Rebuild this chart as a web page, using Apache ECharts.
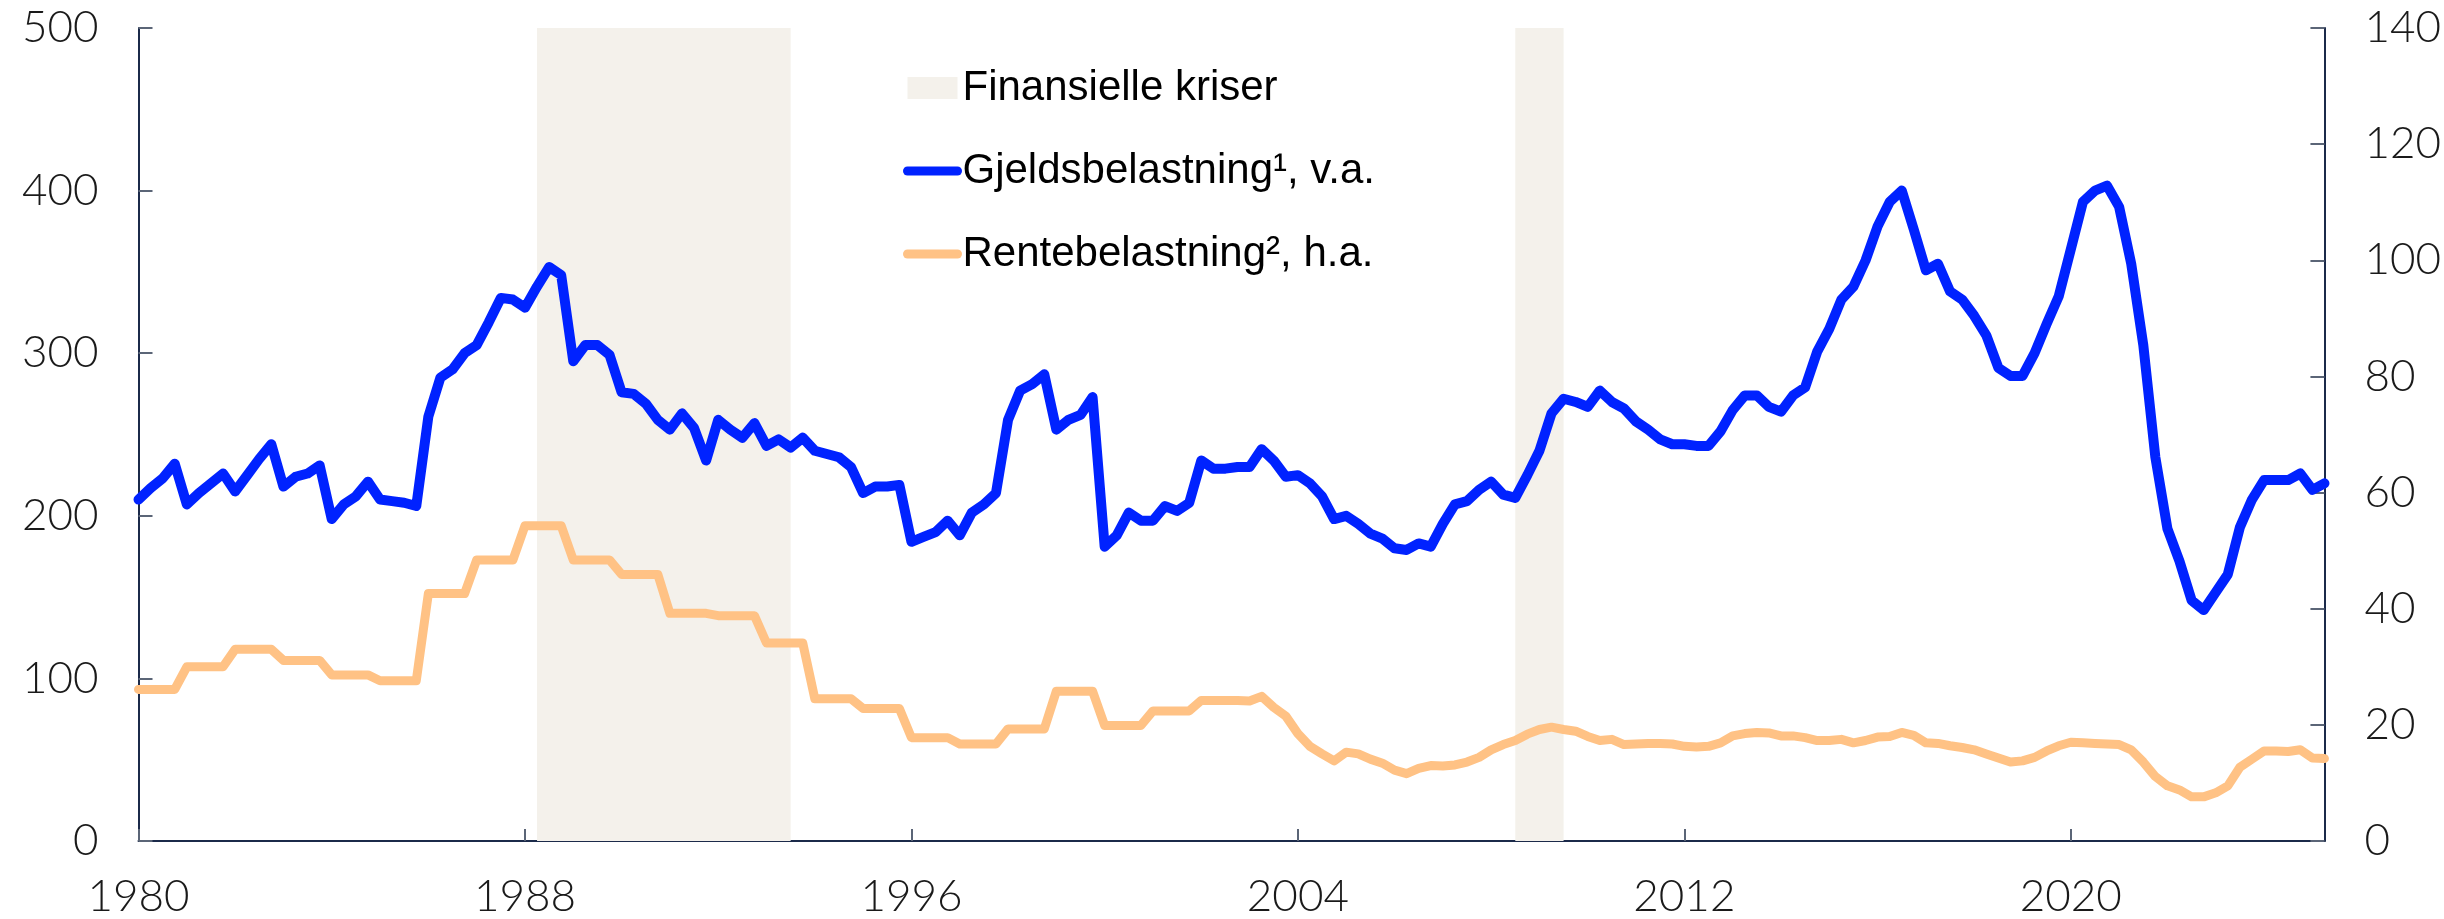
<!DOCTYPE html>
<html lang="no">

<head>
  <meta charset="UTF-8">
  <title>Gjeldsbelastning og rentebelastning</title>
  <script src="https://cdn.jsdelivr.net/npm/echarts@6/dist/echarts.min.js"></script>
  <style>
    html, body { margin: 0; padding: 0; background: #fff; }
    #chart { width: 2444px; height: 919px; }
  </style>
</head>

<body>
  <div id="chart"></div>

  <script>
    // kvartalsdata fra 1980K1 til 2025K2
    const startYear = 1980
    const quarters = []
    for (let i = 0; i < 182; i++) {
      quarters.push((startYear + Math.floor(i / 4)) + 'K' + (i % 4 + 1))
    }

    // Gjeldsbelastning, venstre akse
    const gjeld = [
      210, 217, 223, 232, 207, 214, 220, 226, 215, 225, 235, 244, 218, 224, 226, 231,
      198, 207, 212, 221, 210, 209, 208, 206, 261, 285, 290, 300, 305, 319, 334, 333,
      328, 341, 353, 348, 295, 305, 305, 299, 276, 275, 269, 259, 253, 263, 254, 234,
      259, 253, 248, 257, 243, 247, 242, 248, 240, 238, 236, 230, 214, 218, 218, 219,
      184, 187, 190, 197, 188, 202, 207, 214, 259, 277, 281, 287, 253, 259, 262, 273,
      181, 188, 202, 197, 197, 206, 203, 208, 234, 229, 229, 230, 230, 241, 234, 224,
      225, 220, 212, 198, 200, 195, 189, 186, 180, 179, 183, 181, 195, 207, 209, 216,
      221, 213, 211, 225, 240, 263, 272, 270, 267, 277, 270, 266, 258, 253, 247, 244,
      244, 243, 243, 252, 265, 274, 274, 267, 264, 274, 279, 301, 315, 333, 341, 357,
      378, 393, 400, 376, 351, 355, 338, 333, 323, 311, 291, 286, 286, 300, 318, 335,
      364, 393, 400, 403, 390, 355, 305, 236, 192, 172, 148, 142, 153, 164, 193, 210,
      222, 222, 222, 226, 216, 220
    ]

    // Rentebelastning, høyre akse
    const rente = [
      26.1, 26.1, 26.1, 26.1, 30.0, 30.0, 30.0, 30.0, 33.0, 33.0, 33.0, 33.0, 31.1, 31.1, 31.1, 31.1,
      28.6, 28.6, 28.6, 28.6, 27.6, 27.6, 27.6, 27.6, 42.6, 42.6, 42.6, 42.6, 48.4, 48.4, 48.4, 48.4,
      54.3, 54.3, 54.3, 54.3, 48.4, 48.4, 48.4, 48.4, 45.9, 45.9, 45.9, 45.9, 39.2, 39.2, 39.2, 39.2,
      38.8, 38.8, 38.8, 38.8, 34.1, 34.1, 34.1, 34.1, 24.5, 24.5, 24.5, 24.5, 22.8, 22.8, 22.8, 22.8,
      17.8, 17.8, 17.8, 17.8, 16.7, 16.7, 16.7, 16.7, 19.3, 19.3, 19.3, 19.3, 25.8, 25.8, 25.8, 25.8,
      19.9, 19.9, 19.9, 19.9, 22.4, 22.4, 22.4, 22.4, 24.2, 24.2, 24.2, 24.2, 24.1, 24.9, 23.0, 21.5,
      18.5, 16.3, 15.0, 13.8, 15.3, 15.0, 14.1, 13.4, 12.2, 11.6, 12.5, 13.0, 12.9, 13.1, 13.6, 14.4,
      15.7, 16.6, 17.3, 18.4, 19.2, 19.6, 19.2, 18.9, 18.0, 17.3, 17.5, 16.6, 16.7, 16.8, 16.8, 16.7,
      16.3, 16.2, 16.3, 16.9, 18.1, 18.5, 18.7, 18.6, 18.1, 18.1, 17.8, 17.3, 17.3, 17.5, 16.9, 17.3,
      17.9, 18.0, 18.7, 18.2, 16.9, 16.8, 16.4, 16.1, 15.7, 15.0, 14.3, 13.6, 13.8, 14.4, 15.5, 16.4,
      17.0, 16.9, 16.8, 16.7, 16.6, 15.7, 13.6, 11.1, 9.5, 8.8, 7.6, 7.6, 8.3, 9.5, 12.7, 14.1,
      15.5, 15.5, 15.4, 15.7, 14.3, 14.2
    ]

    // finansielle kriser (fra, til)
    const kriser = [['1988K2', '1993K3'], ['2008K3', '2009K3']]

    const leftTicks = { min: 0, max: 500, interval: 100 }
    const rightTicks = { min: 0, max: 140, interval: 20 }

    const navn = ['Finansielle kriser', 'Gjeldsbelastning¹, v.a.', 'Rentebelastning², h.a.']
    const blue = '#0022ff'
    const orange = '#ffc285'
    const shade = '#f4f1eb'
    const axisColor = '#1b2a4a'
    const tickColor = '#5b6577'
    const labelFont = { fontFamily: 'Lato', fontWeight: 300, fontSize: 44, color: '#1a1a1a' }
    const noDot = { color: 'rgba(0,0,0,0)', borderWidth: 0 }

    const yearTick = (idx) => idx % 32 === 0

    const chart = echarts.init(document.getElementById('chart'))
    chart.setOption({
      animation: false,
      grid: { left: 138.5, right: 113.5, top: 28, bottom: 75 },
      legend: {
        orient: 'vertical',
        left: 898,
        top: 62,
        itemWidth: 50,
        itemHeight: 22,
        itemGap: 41,
        selectedMode: false,
        textStyle: { fontFamily: 'Liberation Sans', fontSize: 42, color: '#000' },
        data: [
          { name: navn[0], icon: 'rect', itemStyle: { color: shade } },
          { name: navn[1], itemStyle: noDot, lineStyle: { width: 9, color: blue, cap: 'round' } },
          { name: navn[2], itemStyle: noDot, lineStyle: { width: 9, color: orange, cap: 'round' } }
        ]
      },
      xAxis: {
        type: 'category',
        data: quarters,
        boundaryGap: false,
        axisLine: { lineStyle: { color: axisColor, width: 2 } },
        axisTick: { inside: true, length: 12, interval: yearTick, lineStyle: { color: tickColor, width: 2 } },
        axisLabel: Object.assign({ interval: yearTick, margin: 34, formatter: (v) => v.slice(0, 4) }, labelFont),
        splitLine: { show: false }
      },
      yAxis: [
        {
          type: 'value',
          position: 'left',
          min: leftTicks.min, max: leftTicks.max, interval: leftTicks.interval,
          axisLine: { show: true, lineStyle: { color: axisColor, width: 2 } },
          axisTick: { show: true, inside: true, length: 14, lineStyle: { color: tickColor, width: 2 } },
          axisLabel: Object.assign({ margin: 40 }, labelFont),
          splitLine: { show: false }
        },
        {
          type: 'value',
          position: 'right',
          min: rightTicks.min, max: rightTicks.max, interval: rightTicks.interval,
          axisLine: { show: true, lineStyle: { color: axisColor, width: 2 } },
          axisTick: { show: true, inside: true, length: 14, lineStyle: { color: tickColor, width: 2 } },
          axisLabel: Object.assign({ margin: 40 }, labelFont),
          splitLine: { show: false }
        }
      ],
      series: [
        {
          name: navn[0],
          type: 'line',
          data: [],
          itemStyle: { color: shade },
          markArea: {
            silent: true,
            itemStyle: { color: shade },
            data: kriser.map(k => [{ xAxis: k[0] }, { xAxis: k[1] }])
          }
        },
        {
          name: navn[1],
          type: 'line',
          yAxisIndex: 0,
          data: gjeld,
          symbol: 'none',
          z: 4,
          itemStyle: { color: blue },
          lineStyle: { color: blue, width: 10, join: 'round', cap: 'round' }
        },
        {
          name: navn[2],
          type: 'line',
          yAxisIndex: 1,
          data: rente,
          symbol: 'none',
          z: 3,
          itemStyle: { color: orange },
          lineStyle: { color: orange, width: 9, join: 'round', cap: 'round' }
        }
      ]
    })
  </script>
</body>

</html>
